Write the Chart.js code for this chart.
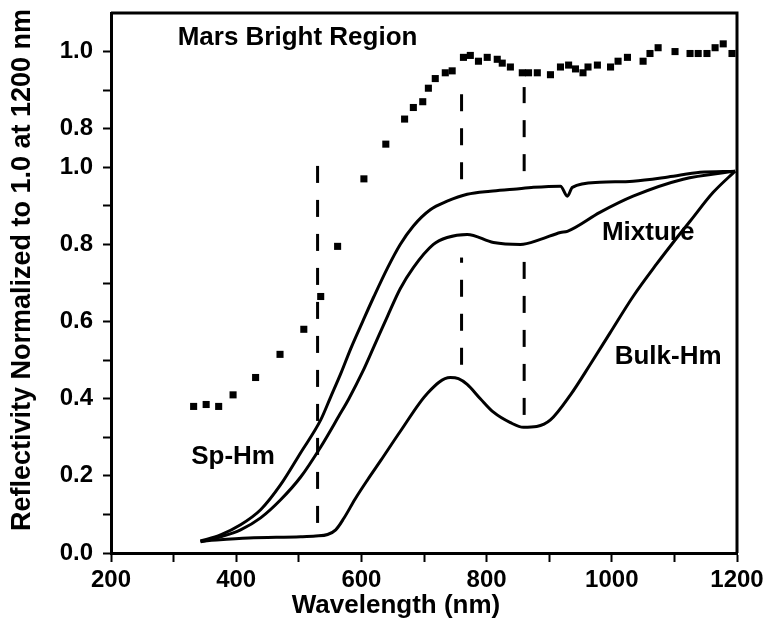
<!DOCTYPE html>
<html lang="en">
<head>
<meta charset="UTF-8">
<title>Mars Bright Region Reflectivity</title>
<script src="https://cdn.jsdelivr.net/npm/chart.js"></script>
<style>
  body { margin: 0; background: #fff; }
  canvas { display: block; }
</style>
</head>
<body>
<canvas id="specChart" width="765" height="621"></canvas>
<script>
// values, wavelength in nm, reflectivity normalized to 1.0 at 1200 nm
const spHmNm  = [343, 375, 407, 439, 471, 503, 535, 551, 567, 583, 602, 620, 642, 662, 683, 710, 737, 769, 806, 843, 875, 918, 929, 937, 981, 1034, 1090, 1141, 1197];
const spHmVal = [0.031, 0.047, 0.073, 0.112, 0.177, 0.26, 0.345, 0.405, 0.465, 0.53, 0.6, 0.665, 0.74, 0.8, 0.848, 0.89, 0.912, 0.93, 0.938, 0.943, 0.948, 0.951, 0.925, 0.948, 0.961, 0.964, 0.975, 0.987, 0.99];

const mixNm  = [343, 375, 407, 439, 471, 503, 535, 564, 580, 602, 620, 642, 662, 683, 715, 737, 769, 811, 854, 886, 918, 929, 981, 1034, 1114, 1197];
const mixVal = [0.029, 0.042, 0.06, 0.091, 0.138, 0.197, 0.275, 0.355, 0.4, 0.47, 0.535, 0.615, 0.685, 0.74, 0.8, 0.818, 0.826, 0.805, 0.8, 0.813, 0.831, 0.834, 0.883, 0.925, 0.969, 0.99];

const bulkNm  = [343, 420, 503, 527, 546, 559, 572, 590, 610, 631, 662, 706, 742, 755, 769, 790, 811, 838, 859, 880, 902, 934, 966, 997, 1034, 1072, 1098, 1125, 1162, 1197];
const bulkVal = [0.031, 0.039, 0.042, 0.044, 0.048, 0.06, 0.09, 0.14, 0.19, 0.24, 0.315, 0.415, 0.455, 0.452, 0.437, 0.4, 0.365, 0.338, 0.326, 0.328, 0.345, 0.41, 0.49, 0.57, 0.665, 0.75, 0.805, 0.86, 0.935, 0.99];

// Mars telescopic points, on their own scale (upper 0.8 / 1.0 ticks)
const marsNm  = [332, 352, 372, 395, 431, 470, 508, 535, 562, 604, 639, 669, 683, 698, 707, 718, 734, 745, 763, 774, 787, 801, 817, 825, 838, 857, 867, 881, 902, 918, 931, 942, 954, 962, 977, 998, 1010, 1025, 1050, 1061, 1074, 1101, 1125, 1138, 1152, 1165, 1178, 1192];
const marsVal = [0.08, 0.085, 0.08, 0.11, 0.155, 0.215, 0.28, 0.365, 0.495, 0.67, 0.76, 0.825, 0.855, 0.87, 0.905, 0.93, 0.945, 0.95, 0.985, 0.99, 0.975, 0.985, 0.98, 0.97, 0.96, 0.945, 0.945, 0.945, 0.94, 0.96, 0.965, 0.955, 0.945, 0.96, 0.965, 0.96, 0.975, 0.985, 0.975, 0.995, 1.01, 1.0, 0.995, 0.995, 0.995, 1.01, 1.02, 0.995];
const marsOffset = 0.3; // Mars curve is shifted up by 0.3 on the shared axis

// dashed band-position markers: wavelength, [from, to] spans on the lower scale
const markerNm    = [530, 760, 760, 860, 860];
const markerSpans = [[0.078, 1.03], [0.488, 0.766], [0.969, 1.203], [0.358, 0.766], [0.99, 1.208]];

const yTickValues = [0, 0.1, 0.2, 0.3, 0.4, 0.5, 0.6, 0.7, 0.8, 0.9, 1.0, 1.1, 1.2, 1.3];
const upperLabels = { 11: '0.8', 13: '1.0' };

// in-plot labels: text, wavelength, lower-scale value
const plotLabels = [
  ['Mars Bright Region', 498, 1.335],
  ['Mixture', 1058, 0.829],
  ['Bulk-Hm', 1090, 0.509],
  ['Sp-Hm', 395, 0.249]
];

const FONT = "'Liberation Sans', Arial, sans-serif";

function pts(xs, ys, off) {
  return xs.map((x, i) => ({ x: x, y: ys[i] + (off || 0) }));
}

const curveStyle = { borderColor: '#000', borderWidth: 3, pointRadius: 0, fill: false, cubicInterpolationMode: 'monotone' };

const datasets = [
  Object.assign({ label: 'Sp-Hm', data: pts(spHmNm, spHmVal) }, curveStyle),
  Object.assign({ label: 'Mixture', data: pts(mixNm, mixVal) }, curveStyle),
  Object.assign({ label: 'Bulk-Hm', data: pts(bulkNm, bulkVal) }, curveStyle),
  {
    label: 'Mars Bright Region',
    data: pts(marsNm, marsVal, marsOffset),
    showLine: false,
    pointStyle: 'rect',
    pointRadius: 5,
    backgroundColor: '#000',
    borderColor: '#000',
    borderWidth: 0
  }
];

markerNm.forEach((nm, i) => {
  datasets.push({
    label: 'marker' + i,
    data: [{ x: nm, y: markerSpans[i][0] }, { x: nm, y: markerSpans[i][1] }],
    borderColor: '#000',
    borderWidth: 3,
    borderDash: [17, 17],
    pointRadius: 0,
    fill: false
  });
});

const framePlugin = {
  id: 'frame',
  afterDraw(chart) {
    const { ctx, chartArea: a } = chart;
    ctx.save();
    ctx.strokeStyle = '#000';
    ctx.lineWidth = 3;
    ctx.beginPath();
    ctx.moveTo(a.left, a.top);
    ctx.lineTo(a.right, a.top);
    ctx.lineTo(a.right, a.bottom);
    ctx.stroke();
    ctx.restore();
  }
};

const textPlugin = {
  id: 'texts',
  afterDraw(chart) {
    const { ctx } = chart;
    const xs = chart.scales.x, ys = chart.scales.y;
    ctx.save();
    ctx.fillStyle = '#000';
    ctx.font = 'bold 26px ' + FONT;
    ctx.textAlign = 'center';
    ctx.textBaseline = 'middle';
    plotLabels.forEach(l => {
      ctx.fillText(l[0], xs.getPixelForValue(l[1]), ys.getPixelForValue(l[2]));
    });
    // axis titles
    ctx.fillText('Wavelength (nm)', 396, 606);
    ctx.font = 'bold 27px ' + FONT;
    ctx.translate(23, 270);
    ctx.rotate(-Math.PI / 2);
    ctx.fillText('Reflectivity Normalized to 1.0 at 1200 nm', 0, 0);
    ctx.restore();
  }
};

new Chart(document.getElementById('specChart'), {
  type: 'line',
  data: { datasets: datasets },
  options: {
    responsive: false,
    animation: false,
    devicePixelRatio: 1,
    layout: { padding: { left: 0, right: 28, top: 13, bottom: 0 } },
    plugins: { legend: { display: false }, tooltip: { enabled: false } },
    scales: {
      x: {
        type: 'linear',
        min: 200,
        max: 1200,
        afterFit(scale) { scale.height = 68; scale.paddingLeft = 0; scale.paddingRight = 0; },
        border: { display: true, color: '#000', width: 3 },
        grid: { drawOnChartArea: false, drawTicks: true, tickLength: 9, tickWidth: 2, tickColor: '#000' },
        ticks: {
          stepSize: 100,
          padding: 4,
          color: '#000',
          font: { family: FONT, size: 24, weight: 'bold' },
          maxRotation: 0,
          autoSkip: false,
          callback: v => (v % 200 === 0 ? String(v) : '')
        }
      },
      y: {
        type: 'linear',
        min: 0,
        max: 1.4,
        afterFit(scale) { scale.width = 111; scale.paddingTop = 0; scale.paddingBottom = 0; },
        afterBuildTicks(scale) { scale.ticks = yTickValues.map(v => ({ value: v })); },
        border: { display: true, color: '#000', width: 3 },
        grid: { drawOnChartArea: false, drawTicks: true, tickLength: 8, tickWidth: 2, tickColor: '#000' },
        ticks: {
          padding: 10,
          color: '#000',
          font: { family: FONT, size: 24, weight: 'bold' },
          autoSkip: false,
          callback: function (v) {
            const t = Math.round(v * 10);
            if (upperLabels[t]) return upperLabels[t];
            if (t <= 10 && t % 2 === 0) return (t / 10).toFixed(1);
            return '';
          }
        }
      }
    }
  },
  plugins: [framePlugin, textPlugin]
});
</script>
</body>
</html>
